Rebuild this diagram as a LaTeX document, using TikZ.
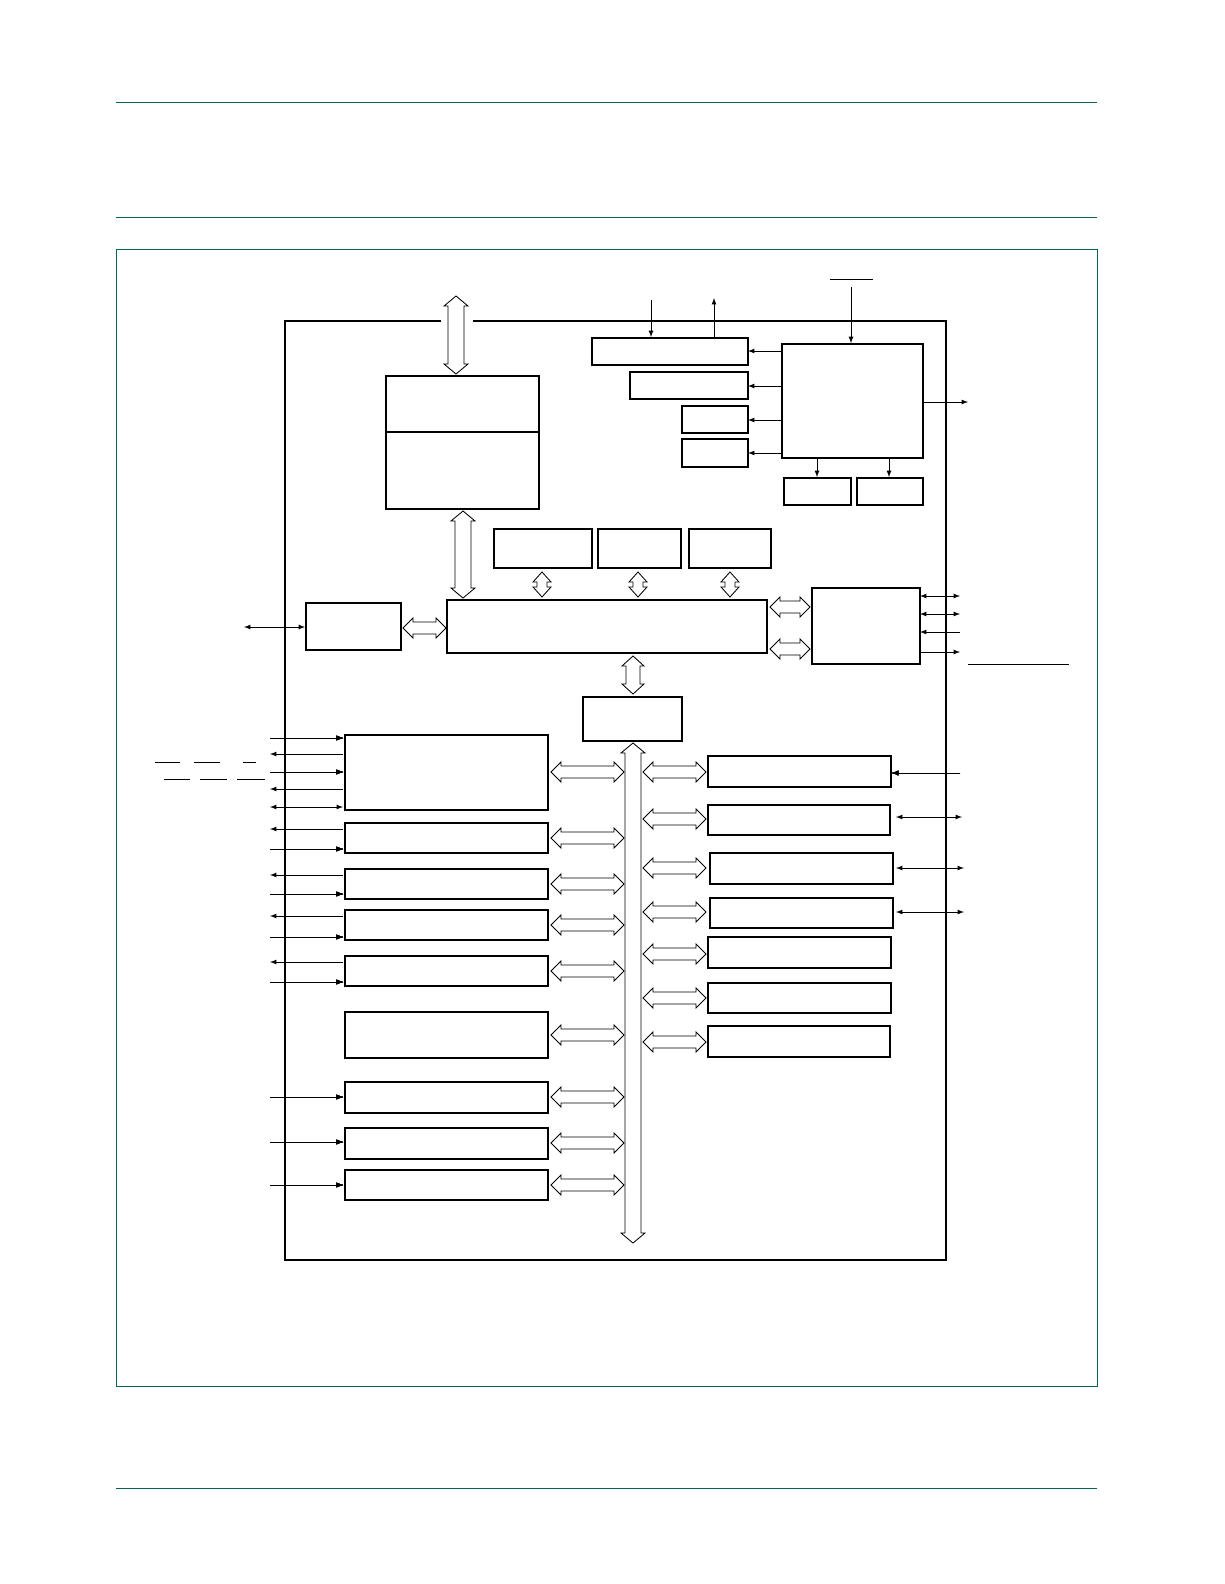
\documentclass[tikz,border=0pt]{standalone}
\usetikzlibrary{fit}
\definecolor{frame}{RGB}{0,102,77}
\tikzset{box/.style={draw, line width=1.3pt, inner sep=0pt},
  pin/.style={line width=0.6pt, -latex},
  pinb/.style={line width=0.6pt, latex-latex}}
% hollow double arrows
\newcommand{\hbus}[4]{\draw[line width=0.6pt] (#1,#3) -- ({#1+10},{#3-#4-4}) -- ({#1+10},{#3-#4}) -- ({#2-10},{#3-#4}) -- ({#2-10},{#3-#4-4}) -- (#2,#3) -- ({#2-10},{#3+#4+4}) -- ({#2-10},{#3+#4}) -- ({#1+10},{#3+#4}) -- ({#1+10},{#3+#4+4}) -- cycle;}
\newcommand{\vbus}[4]{\draw[line width=0.6pt] (#1,#2) -- ({#1-#4-4},{#2+10}) -- ({#1-#4},{#2+10}) -- ({#1-#4},{#3-10}) -- ({#1-#4-4},{#3-10}) -- (#1,#3) -- ({#1+#4+4},{#3-10}) -- ({#1+#4},{#3-10}) -- ({#1+#4},{#2+10}) -- ({#1+#4+4},{#2+10}) -- cycle;}
\newcommand{\blk}[5]{\node[box, fit={(#2,#3)(#4,#5)}] (#1) {};}
\begin{document}
\begin{tikzpicture}[x=0.025cm, y=-0.025cm]
% Page frame
\draw[frame, line width=0.6pt] (116,102) -- (1097,102);
\draw[frame, line width=0.6pt] (116,217) -- (1097,217);
\draw[frame, line width=0.6pt] (116,249) rectangle (1097,1386);
\draw[frame, line width=0.6pt] (116,1488) -- (1097,1488);
% Chip outline
\draw[line width=1.3pt] (441,321) -- (285,321) -- (285,1260) -- (946,1260) -- (946,321) -- (473,321);
% Memory side
\vbus{456}{296}{374}{8}
\blk{mem}{386}{376}{539}{509}
\draw[line width=1.3pt] (386,432) -- (539,432);
\vbus{463}{511}{598}{8}
% Clock and power
\blk{osc}{592}{338}{748}{365}
\blk{pll}{630}{372}{748}{399}
\blk{rtca}{682}{406}{748}{433}
\blk{rtcb}{682}{439}{748}{467}
\blk{sysctl}{782}{344}{923}{458}
\blk{por}{784}{478}{851}{505}
\blk{bod}{857}{478}{923}{505}
\foreach \yy in {351,386,420,453} \draw[pin] (782,\yy) -- (748,\yy);
\coordinate (clkout) at (968,402);
\draw[pin] (sysctl.east |- clkout) -- (clkout);
\draw[pin] (817,458) -- (por.north -| 817,0);
\draw[pin] (889,458) -- (bod.north -| 889,0);
\coordinate (xin) at (651,300);
\coordinate (xout) at (714,298);
\coordinate (rst) at (851,287);
\draw[pin] (xin) -- (osc.north -| xin);
\draw[pin] (osc.north -| xout) -- (xout);
\draw[pin] (rst) -- (sysctl.north -| rst);
\draw[line width=0.5pt] (830,279) -- (873,279);
% Bus matrix and masters
\blk{ma}{494}{529}{592}{568}
\blk{mb}{598}{529}{681}{568}
\blk{mc}{689}{529}{771}{568}
\foreach \xx in {542,638,730} \vbus{\xx}{572}{597}{5}
\blk{ahb}{447}{600}{767}{653}
\blk{dbg}{306}{603}{401}{650}
\coordinate (swd) at (244,627);
\draw[pinb] (swd) -- (dbg.west |- swd);
\hbus{403}{446}{628}{6}
\blk{gpio}{812}{588}{920}{664}
\hbus{770}{810}{607}{6}
\hbus{770}{810}{649}{6}
\draw[pinb] (920,596) -- (960,596);
\draw[pinb] (920,614) -- (960,614);
\draw[pin] (960,632) -- (920,632);
\draw[pin] (920,652) -- (960,652);
\draw[line width=0.5pt] (968,664) -- (1069,664);
% APB bridge and bus
\vbus{633}{656}{694}{7}
\blk{bridge}{583}{697}{682}{741}
\vbus{633}{743}{1243}{8}
% Left peripherals
\blk{uart}{345}{735}{548}{810}
\blk{pa}{345}{823}{548}{853}
\blk{pb}{345}{869}{548}{899}
\blk{pc}{345}{910}{548}{940}
\blk{pd}{345}{956}{548}{986}
\blk{pe}{345}{1012}{548}{1058}
\blk{pf}{345}{1082}{548}{1113}
\blk{pg}{345}{1128}{548}{1159}
\blk{ph}{345}{1170}{548}{1200}
\foreach \yy in {772,838,884,925,971,1035,1097,1143,1185} \hbus{551}{624}{\yy}{6}
\foreach \yy in {738,772,849,894,937,982,1097,1142,1185} \draw[pin] (270,\yy) -- (343,\yy);
\foreach \yy in {754,789,829,875,916,962} \draw[pin] (343,\yy) -- (270,\yy);
\draw[pinb] (270,807) -- (343,807);
\draw[line width=0.5pt] (155,762) -- (180,762) (194,762) -- (220,762) (243,762) -- (256,762);
\draw[line width=0.5pt] (164,779) -- (190,779) (200,779) -- (227,779) (237,779) -- (265,779);
% Right peripherals
\blk{ra}{708}{756}{891}{787}
\blk{rb}{708}{805}{890}{835}
\blk{rc}{710}{853}{893}{884}
\blk{rd}{710}{898}{893}{928}
\blk{re}{708}{937}{891}{968}
\blk{rf}{708}{983}{891}{1013}
\blk{rg}{708}{1026}{890}{1057}
\foreach \yy in {772,819,868,912,954,998,1042} \hbus{643}{706}{\yy}{6}
\draw[pin] (960,773) -- (ra.east |- 0,773);
\draw[pinb] (896,817) -- (962,817);
\draw[pinb] (896,868) -- (964,868);
\draw[pinb] (896,912) -- (964,912);
\pgfresetboundingbox
\useasboundingbox (0,0) rectangle (1224,1584);
\end{tikzpicture}
\end{document}
